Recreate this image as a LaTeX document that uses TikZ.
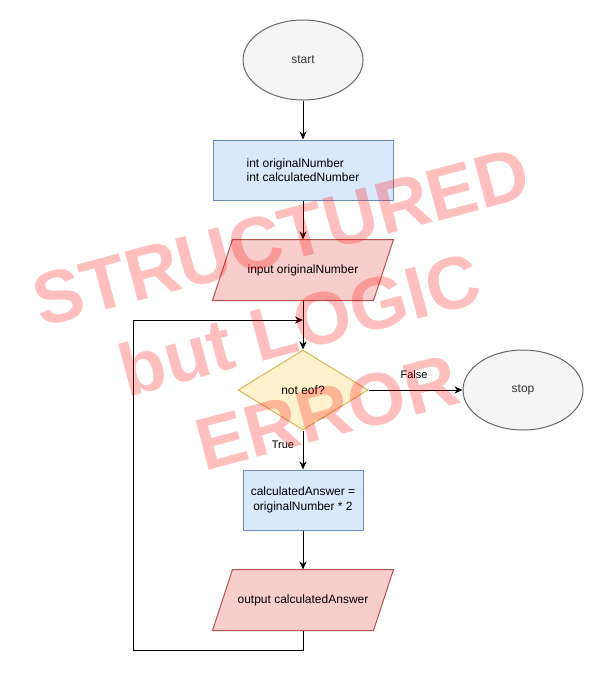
\documentclass[tikz,border=0pt]{standalone}
\usepackage{fontspec}
\setmainfont{Liberation Sans}
\usetikzlibrary{shapes.geometric,arrows.meta,backgrounds}
\definecolor{bluefill}{HTML}{DAE8FC}
\definecolor{bluedraw}{HTML}{6C8EBF}
\definecolor{redfill}{HTML}{F8CECC}
\definecolor{reddraw}{HTML}{B85450}
\definecolor{yelfill}{HTML}{FFF2CC}
\definecolor{yeldraw}{HTML}{D6B656}
\definecolor{greyfill}{HTML}{F5F5F5}
\definecolor{greydraw}{HTML}{666666}
\definecolor{greytext}{HTML}{333333}
\tikzset{
  base/.style={font=\fontsize{12}{14.4}\selectfont, inner sep=0pt, line width=1pt},
  term/.style={base, ellipse, draw=greydraw, fill=greyfill, text=greytext, minimum width=120pt, minimum height=80pt},
  procbox/.style={base, rectangle, draw=bluedraw, fill=bluefill, minimum height=60pt},
  iobox/.style={base, rectangle, minimum width=180pt, minimum height=60pt},
  iofill/.style={draw=reddraw, fill=redfill, line width=1pt},
  decision/.style={base, diamond, draw=yeldraw, fill=yelfill, minimum width=130pt, minimum height=80pt, aspect=1.625},
  flow/.style={line width=1pt, -{Stealth[length=8pt,width=7pt,inset=2.5pt]}},
  edgelbl/.style={font=\fontsize{11}{13}\selectfont, inner sep=0pt},
  wmark/.style={font=\fontsize{74}{89}\bfseries, text=red, text opacity=0.25, rotate=15, anchor=base, inner sep=0pt}
}
\begin{document}
\begin{tikzpicture}[x=1pt,y=-1pt]
\useasboundingbox (0,0) rectangle (607,680);
\node[term] (start) at (303,60) {start};
\node[procbox, minimum width=180pt, align=left] (decl) at (303,170) {int originalNumber\\int calculatedNumber};
\node[iobox] (in) at (303,270) {input originalNumber};
\node[decision] (dec) at (303,390) {not eof?};
\node[term] (stop) at (523,390) {stop};
\node[procbox, minimum width=120pt, align=center] (calc) at (303,500) {calculatedAnswer =\\originalNumber * 2};
\node[iobox] (out) at (303,600) {output calculatedAnswer};
\begin{pgfonlayer}{background}
\path[iofill] (in.south west) -- ([xshift=-20pt]in.south east) -- (in.north east) -- ([xshift=20pt]in.north west) -- cycle;
\path[iofill] (out.south west) -- ([xshift=-20pt]out.south east) -- (out.north east) -- ([xshift=20pt]out.north west) -- cycle;
\end{pgfonlayer}
\coordinate (join) at (303,320);
\coordinate (lb) at (303,650);
\coordinate (lbl) at (133,650);
\coordinate (ltl) at (133,320);
\draw[flow] (start) -- (decl);
\draw[flow] (decl) -- (in);
\draw[flow] (in.south) -- (dec.north);
\draw[flow] (dec.east) -- (stop.west);
\draw[flow] (dec.south) -- (calc.north);
\draw[flow] (calc) -- (out);
\draw[flow] (out.south) -- (lb) -- (lbl) -- (ltl) -- (join);
\node[edgelbl] (lblF) at (414,375) {False};
\node[edgelbl] (lblT) at (283,445) {True};
\node[wmark] (wm1) at (288,261.5) {STRUCTURED};
\node[wmark] (wm2) at (306,349.5) {but LOGIC};
\node[wmark] (wm3) at (334,437) {ERROR};
\end{tikzpicture}
\end{document}
